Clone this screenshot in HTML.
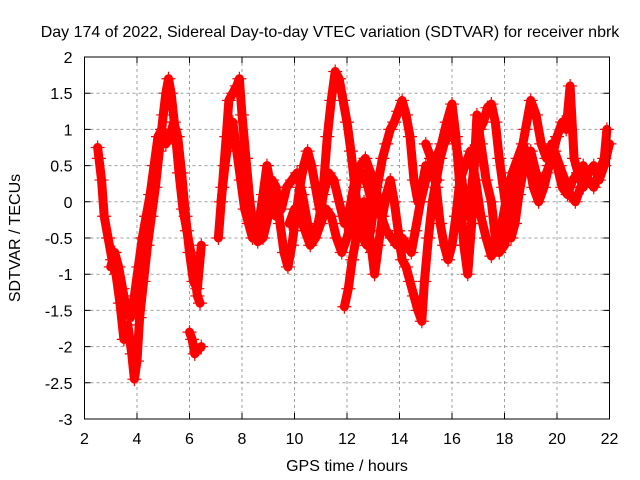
<!DOCTYPE html>
<html><head><meta charset="utf-8"><style>
body{margin:0;background:#fff;}
svg{display:block;font-family:"Liberation Sans",sans-serif;}
</style></head><body>
<svg id="chart" width="640" height="480">
<text x="330" y="37" font-size="16" text-anchor="middle">Day 174 of 2022, Sidereal Day-to-day VTEC variation (SDTVAR) for receiver nbrk</text>
<g id="grid"></g>
<g id="axes"></g>
<g id="marks"></g>
<rect x="84.5" y="57" width="525" height="362" fill="none" stroke="#000" stroke-width="1"/>
<text x="347" y="471" font-size="16" text-anchor="middle">GPS time / hours</text>
<text transform="translate(20,238) rotate(-90)" font-size="16" text-anchor="middle">SDTVAR / TECUs</text>
</svg>
<script>
const xTicks=[2,4,6,8,10,12,14,16,18,20,22];
const yTicks=[2,1.5,1,0.5,0,-0.5,-1,-1.5,-2,-2.5,-3];
const trackA=[[2.5,0.75],[2.55,0.6],[2.65,0.3],[2.75,-0.2],[2.9,-0.5],[3.05,-0.8],[3.2,-1.0],[3.35,-1.4],[3.5,-1.9],[3.65,-1.7],[3.8,-2.1],[3.9,-2.45],[4.0,-2.2],[4.1,-1.6],[4.25,-1.1],[4.4,-0.6],[4.55,-0.2],[4.7,0.2],[4.85,0.7],[5.0,1.2],[5.1,1.5],[5.2,1.7],[5.3,1.5],[5.45,1.0],[5.6,0.4],[5.75,-0.1],[5.9,-0.4],[6.05,-0.7],[6.2,-1.0],[6.3,-1.3],[6.4,-1.4]];
const trackB=[[3.0,-0.9],[3.15,-0.7],[3.3,-0.9],[3.45,-1.2],[3.6,-1.5],[3.75,-1.6],[3.9,-1.3],[4.05,-0.9],[4.2,-0.5],[4.35,-0.2],[4.5,0.1],[4.65,0.5],[4.8,0.9],[4.95,1.0],[5.1,0.8],[5.25,0.9],[5.4,1.1],[5.55,0.9],[5.7,0.4],[5.85,-0.2],[6.0,-0.7],[6.15,-1.1],[6.3,-1.2],[6.45,-0.6]];
const trackC=[[6.0,-1.8],[6.1,-1.9],[6.2,-2.1],[6.3,-2.05],[6.45,-2.0]];
const trackD=[[7.1,-0.5],[7.25,0.2],[7.4,0.9],[7.5,1.4],[7.65,1.5],[7.8,1.6],[7.9,1.7],[8.0,1.2],[8.15,0.6],[8.3,0.0],[8.45,-0.4],[8.6,-0.55],[8.8,-0.5],[9.0,-0.2],[9.15,0.3],[9.3,0.2],[9.45,-0.3],[9.6,-0.7],[9.75,-0.9],[9.9,-0.6],[10.05,-0.2],[10.2,0.2],[10.35,0.5],[10.5,0.7],[10.65,0.5],[10.8,0.2],[10.95,-0.1],[11.1,0.2],[11.25,0.9],[11.4,1.4],[11.55,1.8],[11.7,1.7],[11.85,1.4],[12.0,1.1],[12.15,0.7],[12.3,0.2],[12.45,-0.2],[12.6,-0.5],[12.75,-0.6],[12.9,-0.4],[13.05,0.0],[13.2,0.3],[13.35,0.6],[13.5,0.8],[13.65,1.0],[13.8,1.1],[13.95,1.25],[14.1,1.4],[14.25,1.2],[14.4,0.9],[14.55,0.3],[14.7,0.0],[14.85,0.2],[15.0,0.5],[15.15,0.4],[15.3,0.5],[15.45,0.3]];
const trackE=[[7.2,0.0],[7.35,0.5],[7.5,0.9],[7.65,1.1],[7.8,0.7],[7.95,0.3],[8.1,-0.1],[8.25,-0.3],[8.4,-0.5],[8.6,-0.4],[8.8,0.1],[8.95,0.5],[9.1,0.2],[9.3,-0.2],[9.5,-0.1],[9.7,0.2],[9.9,0.3],[10.1,0.4],[10.3,0.1],[10.5,-0.3],[10.7,-0.5],[10.9,-0.3],[11.1,0.1],[11.3,0.4],[11.5,0.3],[11.7,0.0],[11.9,-0.3],[12.1,-0.1],[12.3,0.3],[12.5,0.5],[12.7,0.6],[12.9,0.4],[13.1,0.2],[13.3,-0.2],[13.5,-0.4],[13.7,-0.5],[13.9,-0.6],[14.1,-0.5],[14.3,-0.6],[14.45,-0.7],[14.6,-0.4],[14.8,0.0],[15.0,0.3],[15.2,0.4],[15.4,0.6],[15.6,0.8],[15.8,1.1],[16.0,1.35],[16.15,0.9],[16.3,0.2],[16.45,-0.6],[16.6,-1.0],[16.75,-0.3],[16.85,0.5],[16.95,1.2],[17.1,0.8],[17.3,0.3],[17.5,0.0],[17.65,-0.5],[17.8,-0.7],[18.0,-0.6],[18.2,-0.3],[18.4,0.2],[18.6,0.6],[18.8,1.0],[19.0,1.4],[19.2,1.2],[19.4,0.8],[19.6,0.6],[19.8,0.8],[20.0,0.5],[20.2,0.2],[20.4,0.1],[20.6,0.3],[20.8,0.4],[21.0,0.2],[21.2,0.4],[21.4,0.5],[21.6,0.3],[21.8,0.5],[22.0,0.8]];
const trackF=[[11.9,-1.45],[12.05,-1.2],[12.2,-0.8],[12.35,-0.5],[12.5,-0.2],[12.65,0.0],[12.8,-0.3],[12.95,-0.7],[13.05,-1.0],[13.2,-0.6],[13.35,-0.2],[13.5,0.1],[13.65,0.3],[13.8,0.0],[13.95,-0.4],[14.1,-0.8],[14.25,-0.9],[14.4,-1.1],[14.55,-1.3],[14.7,-1.5],[14.85,-1.65],[14.95,-1.1],[15.1,-0.5],[15.25,0.0],[15.4,0.3],[15.55,0.6],[15.7,0.8],[15.85,0.9],[16.0,1.0],[16.15,0.8],[16.3,0.5],[16.45,0.1],[16.6,-0.2],[16.75,0.2],[16.9,0.7],[17.05,1.0],[17.2,1.1],[17.35,1.3],[17.5,1.35],[17.65,1.1],[17.8,0.6],[17.95,0.2],[18.1,-0.2],[18.25,-0.5],[18.4,-0.3],[18.55,0.1],[18.7,0.4],[18.85,0.6],[19.0,0.7],[19.2,0.4],[19.4,0.2],[19.6,0.4],[19.8,0.6],[20.0,0.9],[20.2,1.1],[20.35,1.0],[20.5,1.6],[20.65,0.6],[20.8,0.4],[21.0,0.5],[21.2,0.3],[21.4,0.2],[21.6,0.4],[21.8,0.6],[21.9,1.0]];
const trackG=[[15.0,0.8],[15.2,0.6],[15.4,0.2],[15.55,-0.3],[15.7,-0.6],[15.85,-0.8],[16.0,-0.6],[16.15,-0.2],[16.3,0.3],[16.5,0.5],[16.7,0.7],[16.9,0.3],[17.1,-0.2],[17.3,-0.5],[17.5,-0.75],[17.7,-0.6],[17.9,-0.3],[18.1,0.1],[18.3,0.4],[18.5,0.6],[18.7,0.8],[18.9,0.6],[19.1,0.2],[19.3,0.0],[19.5,0.2],[19.7,0.5],[19.9,0.7],[20.1,0.5],[20.3,0.3],[20.5,0.1],[20.7,0.0],[20.9,0.2]];
const trackH=[[9.8,-0.3],[10.0,-0.1],[10.2,-0.2],[10.4,-0.4],[10.6,-0.6],[10.8,-0.5],[11.0,-0.3],[11.2,-0.1],[11.4,-0.2],[11.6,-0.5],[11.8,-0.7],[12.0,-0.5],[12.2,-0.2],[12.4,0.3],[12.6,0.4],[12.8,0.2],[13.0,-0.1]];
const tracks=[trackA,trackB,trackC,trackD,trackE,trackF,trackG,trackH];

const NS="http://www.w3.org/2000/svg";
const X0=84.5,X1=609.5,Y0=57,Y1=419;
function xs(t){return X0+(t-2)/20*(X1-X0);}
function ys(v){return Y0+(2-v)/5*(Y1-Y0);}
const grid=document.getElementById('grid'),axes=document.getElementById('axes'),marks=document.getElementById('marks');
function mk(tag,attrs,parent){const e=document.createElementNS(NS,tag);for(const k in attrs)e.setAttribute(k,attrs[k]);parent.appendChild(e);return e;}
xTicks.forEach(t=>{
  const x=xs(t);
  if(t>2&&t<22){const g=mk('line',{x1:x,x2:x,y1:Y0,y2:Y1,stroke:'#a0a0a0','stroke-dasharray':'3,3'},grid);
  
  }
  const tk=mk('path',{d:`M${x},${Y1}v-6M${x},${Y0}v6`,stroke:'#000'},axes);
  
  
  const l=mk('text',{x:x,y:Y1+25,'font-size':16,'text-anchor':'middle'},axes);l.textContent=t;
  
  
});
yTicks.forEach(v=>{
  const y=ys(v);
  if(v<2&&v>-3){const g=mk('line',{x1:X0,x2:X1,y1:y,y2:y,stroke:'#a0a0a0','stroke-dasharray':'3,3'},grid);
  
  }
  const tk=mk('path',{d:`M${X0},${y}h6M${X1},${y}h-6`,stroke:'#000'},axes);
  
  
  const l=mk('text',{x:X0-12,y:y+6,'font-size':16,'text-anchor':'end'},axes);l.textContent=v;
  
  
});
tracks.forEach(tr=>{
  const pl=mk('polyline',{points:tr.map(p=>xs(p[0])+','+ys(p[1])).join(' '),fill:'none',stroke:'#f00','stroke-width':9,'stroke-linejoin':'round','stroke-linecap':'round'},marks);
  
  
  let d='';
  tr.forEach(p=>{const x=xs(p[0]),y=ys(p[1]);d+=`M${x-7},${y}h14M${x},${y-7}v14`;});
  const pm=mk('path',{d:d,stroke:'#f00','stroke-width':1.2},marks);
  
  
});
</script>
</body></html>
